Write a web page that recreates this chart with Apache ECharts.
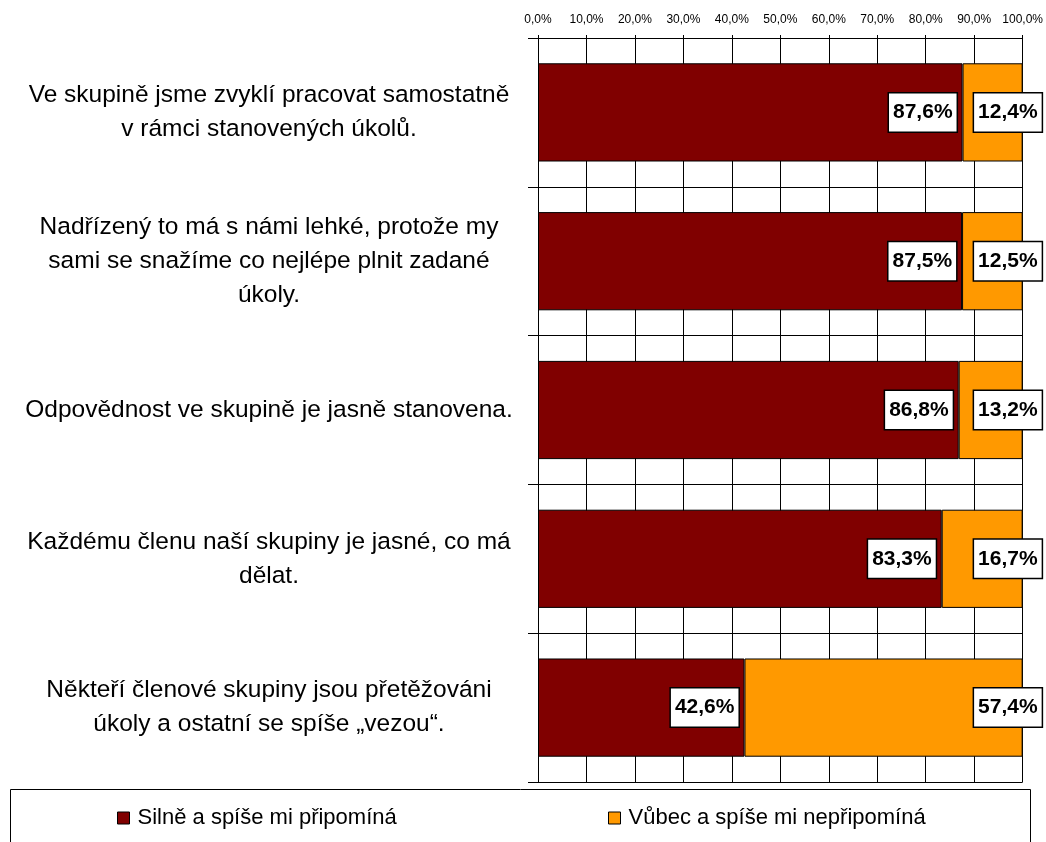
<!DOCTYPE html>
<html>
<head>
<meta charset="utf-8">
<script src="https://cdn.jsdelivr.net/npm/echarts@6/dist/echarts.min.js"></script>
<style>
  html, body { margin: 0; padding: 0; background: #fff; }
  #chart { width: 1046px; height: 842px; }
</style>
</head>
<body>
<div id="chart"></div>
<script>
// statements (top to bottom)
var categories = [
  'Ve skupině jsme zvyklí pracovat samostatně\nv rámci stanovených úkolů.',
  'Nadřízený to má s námi lehké, protože my\nsami se snažíme co nejlépe plnit zadané\núkoly.',
  'Odpovědnost ve skupině je jasně stanovena.',
  'Každému členu naší skupiny je jasné, co má\ndělat.',
  'Někteří členové skupiny jsou přetěžováni\núkoly a ostatní se spíše „vezou“.'
]
var seriesNames = ['Silně a spíše mi připomíná', 'Vůbec a spíše mi nepřipomíná']
var agree = [87.6, 87.5, 86.8, 83.3, 42.6]
var disagree = [12.4, 12.5, 13.2, 16.7, 57.4]
var xTicks = [0, 10, 20, 30, 40, 50, 60, 70, 80, 90, 100]

var font = 'Liberation Sans, Arial, sans-serif'
function pct(v) { return v.toFixed(1).replace('.', ',') + '%' }

var myChart = echarts.init(document.getElementById('chart'))

var labelBox = {
  show: true,
  position: 'insideRight',
  distance: 6,
  formatter: function (p) { return pct(p.value) },
  fontFamily: font,
  fontSize: 21,
  fontWeight: 'bold',
  color: '#000',
  backgroundColor: '#fff',
  borderColor: '#000',
  borderWidth: 1.5,
  padding: [9, 4, 8, 4]
}

myChart.setOption({
  animation: false,
  textStyle: { fontFamily: font },
  grid: { left: 538, right: 23, top: 38, bottom: 60 },
  graphic: [{
    type: 'rect',
    shape: { x: 10.5, y: 789.5, width: 1020, height: 70 },
    style: { fill: 'none', stroke: '#000', lineWidth: 1 },
    z: 0
  }],
  legend: [
    {
      data: [seriesNames[0]], left: 117, top: 807, padding: 0,
      itemWidth: 12, itemHeight: 12, icon: 'rect',
      itemStyle: { borderColor: '#000', borderWidth: 1 },
      textStyle: { fontFamily: font, fontSize: 22, color: '#000', padding: [0, 0, 0, 3] }
    },
    {
      data: [seriesNames[1]], left: 608, top: 807, padding: 0,
      itemWidth: 12, itemHeight: 12, icon: 'rect',
      itemStyle: { borderColor: '#000', borderWidth: 1 },
      textStyle: { fontFamily: font, fontSize: 22, color: '#000', padding: [0, 0, 0, 3] }
    }
  ],
  xAxis: {
    type: 'value',
    position: 'top',
    min: xTicks[0],
    max: xTicks[xTicks.length - 1],
    interval: xTicks[1] - xTicks[0],
    axisLine: { show: true, lineStyle: { color: '#000', width: 1 } },
    axisTick: { show: true, length: 3, lineStyle: { color: '#000' } },
    axisLabel: {
      formatter: function (v) { return pct(v) },
      fontSize: 12, color: '#000', margin: 12
    },
    splitLine: { show: true, lineStyle: { color: '#000', width: 1 } }
  },
  yAxis: {
    type: 'category',
    inverse: true,
    data: categories,
    axisLine: { show: true, lineStyle: { color: '#000', width: 1 } },
    axisTick: { show: true, length: 10, lineStyle: { color: '#000' } },
    splitLine: { show: true, lineStyle: { color: '#000', width: 1 } },
    axisLabel: {
      interval: 0,
      align: 'center',
      margin: 269,
      fontSize: 24.5,
      lineHeight: 34,
      color: '#000'
    }
  },
  series: [
    {
      name: seriesNames[0],
      type: 'bar',
      stack: 'total',
      barWidth: '66%',
      data: agree,
      itemStyle: { color: '#800000', borderColor: '#000', borderWidth: 1 },
      label: labelBox
    },
    {
      name: seriesNames[1],
      type: 'bar',
      stack: 'total',
      barWidth: '66%',
      data: disagree,
      itemStyle: { color: '#FF9900', borderColor: '#000', borderWidth: 1 },
      label: Object.assign({}, labelBox, { distance: 5, offset: [24, 0] })
    }
  ]
})
</script>
</body>
</html>
